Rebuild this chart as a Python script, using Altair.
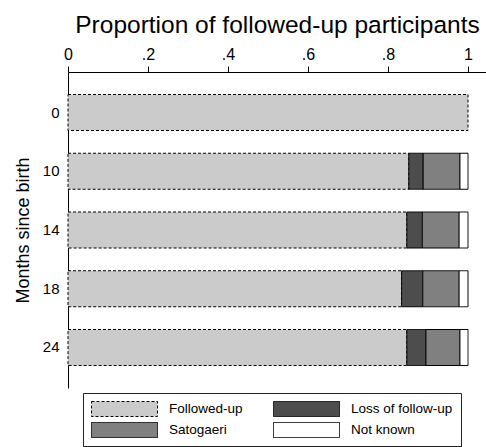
import altair as alt
import pandas as pd

# Months since birth at each follow-up visit
months = ["0", "10", "14", "18", "24"]

# Follow-up status categories, in stacking order
statuses = ["Followed-up", "Loss of follow-up", "Satogaeri", "Not known"]

# Proportion of participants in each status at each visit
followed_up = [1.000, 0.852, 0.847, 0.834, 0.847]
loss_of_follow_up = [0.000, 0.036, 0.039, 0.053, 0.048]
satogaeri = [0.000, 0.092, 0.092, 0.091, 0.085]
not_known = [0.000, 0.020, 0.022, 0.022, 0.020]

x_ticks = [0, 0.2, 0.4, 0.6, 0.8, 1]

fills = ["#cbcbcb", "#4d4d4d", "#808080", "#ffffff"]
outlines = ["#000000"] * 4
dashes = [[3, 2], [1, 0], [1, 0], [1, 0]]

series = [followed_up, loss_of_follow_up, satogaeri, not_known]
records = []
for i, month in enumerate(months):
    for rank, (status, values) in enumerate(zip(statuses, series)):
        if values[i] > 0:
            records.append({"month": month, "status": status,
                            "share": values[i], "rank": rank})
df = pd.DataFrame(records)

FONT = "Liberation Sans"

legend_spec = dict(
    title=None,
    orient="none",
    legendX=15,
    legendY=321,
    direction="horizontal",
    columns=2,
    columnPadding=30,
    rowPadding=5,
    clipHeight=16,
    symbolType="M-1,-0.227H1V0.227H-1Z",
    symbolSize=4356,
    symbolStrokeWidth=1,
    symbolStrokeColor="black",
    labelFont=FONT,
    labelFontSize=13.5,
    labelColor="black",
    labelOffset=11,
    padding=8,
    strokeColor="#222222",
    fillColor="white",
)

chart = (
    alt.Chart(df)
    .mark_bar(strokeWidth=1)
    .encode(
        x=alt.X(
            "share:Q",
            stack="zero",
            scale=alt.Scale(domain=[0, 1.045], nice=False),
            axis=alt.Axis(
                orient="top",
                values=x_ticks,
                labelExpr="datum.value == 0 ? '0' : datum.value == 1 ? '1' : "
                          "replace(format(datum.value, '.1f'), '0.', '.')",
                title="Proportion of followed-up participants",
                titleFontSize=24.5,
                titlePadding=9,
                labelFontSize=16,
                labelPadding=4,
                labelFlush=False,
                tickSize=6,
                grid=False,
            ),
        ),
        y=alt.Y(
            "month:O",
            sort=months,
            scale=alt.Scale(paddingInner=0.387, paddingOuter=0.383),
            axis=alt.Axis(
                title="Months since birth",
                titleFontSize=18,
                titlePadding=10,
                labelFontSize=15,
                labelPadding=9,
                ticks=False,
                tickSize=0,
                labelAngle=0,
                grid=False,
            ),
        ),
        fill=alt.Fill(
            "status:N",
            sort=statuses,
            scale=alt.Scale(domain=statuses, range=fills),
            legend=alt.Legend(**legend_spec),
        ),
        stroke=alt.Stroke(
            "status:N",
            sort=statuses,
            scale=alt.Scale(domain=statuses, range=outlines),
            legend=alt.Legend(**legend_spec),
        ),
        strokeDash=alt.StrokeDash(
            "status:N",
            sort=statuses,
            scale=alt.Scale(domain=statuses, range=dashes),
            legend=alt.Legend(**legend_spec),
        ),
        order=alt.Order("rank:Q"),
    )
    .properties(
        width=418,
        height=316,
        padding={"left": 68, "top": 72, "right": 0, "bottom": 59},
        autosize="none",
        background="white",
    )
    .configure_view(stroke=None)
    .configure_axis(
        domainColor="black",
        tickColor="black",
        labelColor="black",
        titleColor="black",
        labelFont=FONT,
        titleFont=FONT,
        titleFontWeight="normal",
    )
)

chart.save("out.html", embed_options={"renderer": "svg", "actions": False})
